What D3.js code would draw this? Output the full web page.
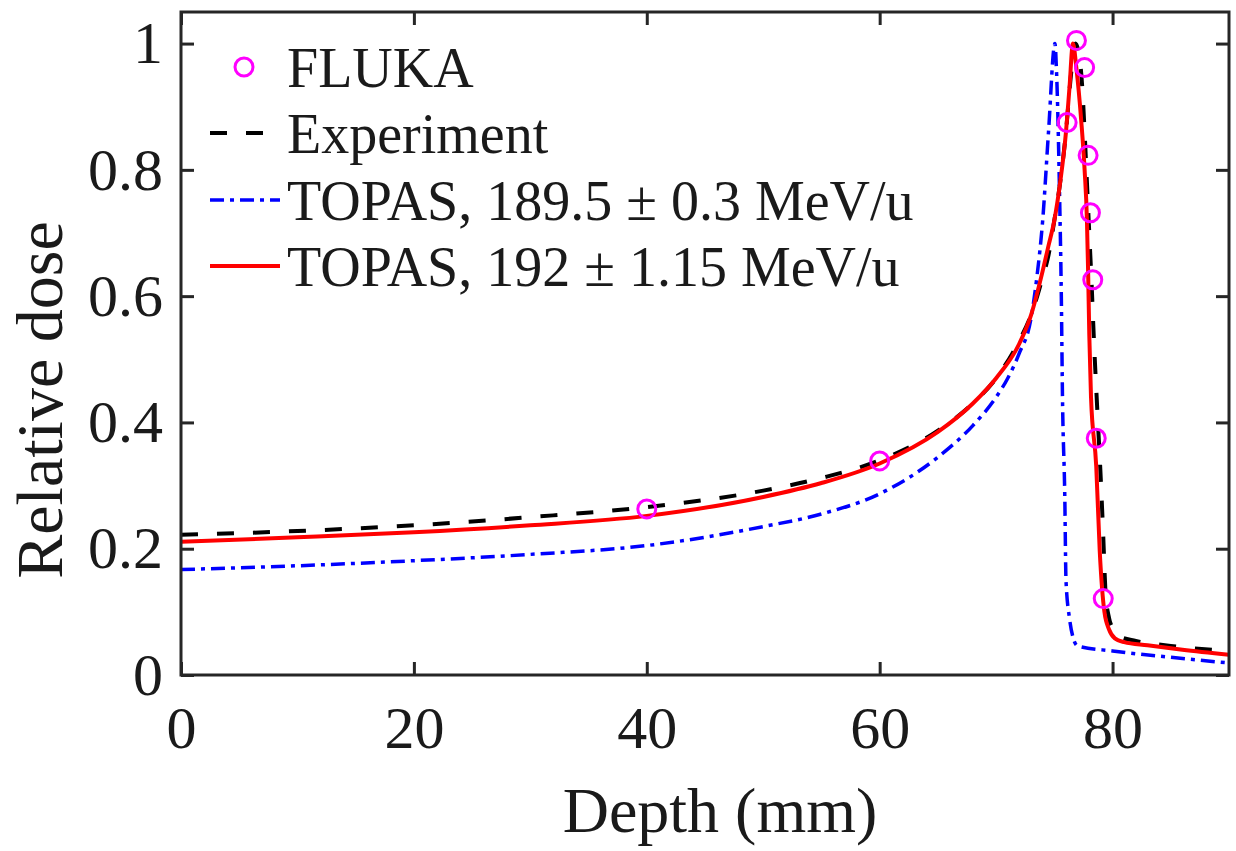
<!DOCTYPE html>
<html>
<head>
<meta charset="utf-8">
<script src="https://cdn.jsdelivr.net/npm/d3@7"></script>
<style>
  body { margin: 0; background: #fff; }
  text { font-family: "Liberation Serif", "Times New Roman", serif; fill: #1a1a1a; }
</style>
</head>
<body>
<div id="container"></div>
<script>
/* DATA */
const expDepth = [0, 10, 20, 30, 40, 50, 55, 60, 65, 68, 70, 72, 73, 74, 74.5, 75, 75.5, 76, 76.4, 76.8, 77.1, 77.4, 77.6, 77.8, 78.0, 78.2, 78.4, 78.7, 79.0, 79.2, 79.4, 79.7, 80.0, 80.6, 82, 85, 90];
const expDose = [0.222, 0.228, 0.237, 0.250, 0.266, 0.292, 0.312, 0.340, 0.387, 0.430, 0.470, 0.530, 0.570, 0.630, 0.665, 0.720, 0.780, 0.860, 0.945, 1.0, 0.985, 0.93, 0.86, 0.78, 0.70, 0.62, 0.53, 0.416, 0.306, 0.22, 0.13, 0.09, 0.074, 0.061, 0.054, 0.046, 0.038];

const redDepth = [0, 10, 20, 30, 40, 50, 55, 60, 65, 68, 70, 72, 73, 74, 74.5, 75, 75.5, 76, 76.3, 76.6, 76.9, 77.3, 77.6, 77.8, 77.9, 78.0, 78.15, 78.6, 78.9, 79.3, 79.7, 80.2, 81, 83, 86, 90];
const redDose = [0.211, 0.218, 0.226, 0.237, 0.252, 0.282, 0.304, 0.335, 0.385, 0.430, 0.470, 0.525, 0.570, 0.640, 0.680, 0.720, 0.780, 0.860, 0.930, 1.0, 0.96, 0.88, 0.80, 0.72, 0.64, 0.54, 0.44, 0.33, 0.196, 0.10, 0.072, 0.058, 0.052, 0.047, 0.040, 0.032];

const blueDepth = [0, 10, 20, 30, 40, 50, 55, 60, 65, 68, 70, 71, 72, 73, 73.5, 74, 74.5, 75.05, 75.2, 75.45, 75.6, 75.7, 75.9, 76.0, 76.3, 76.6, 77, 80, 85, 90];
const blueDose = [0.167, 0.173, 0.181, 0.191, 0.205, 0.235, 0.255, 0.287, 0.345, 0.395, 0.44, 0.47, 0.51, 0.565, 0.63, 0.72, 0.86, 1.0, 0.95, 0.76, 0.60, 0.44, 0.28, 0.15, 0.09, 0.06, 0.046, 0.038, 0.028, 0.019];

const flukaDepth = [40, 60, 76.1, 76.9, 77.6, 77.9, 78.1, 78.3, 78.6, 79.2];
const flukaDose = [0.263, 0.339, 0.875, 1.005, 0.962, 0.823, 0.732, 0.626, 0.375, 0.121];

const xTicks = [0, 20, 40, 60, 80];
const yTicks = [0, 0.2, 0.4, 0.6, 0.8, 1];
const legendLabels = ["FLUKA", "Experiment", "TOPAS, 189.5 \u00b1 0.3 MeV/u", "TOPAS, 192 \u00b1 1.15 MeV/u"];

/* CONSTANTS */
const width = 1236, height = 851;
const mLeft = 181, mRight = 1229, mTop = 12, mBottom = 675;
const axisColor = "#262626";

const svg = d3.select("#container").append("svg")
  .attr("width", width)
  .attr("height", height);

/* SCALES */
const x = d3.scaleLinear().domain([0, 90]).range([mLeft, mRight]);
const y = d3.scaleLinear().domain([0, 1.05]).range([mBottom, mTop]);

svg.append("clipPath").attr("id", "clip")
  .append("rect").attr("x", mLeft).attr("y", mTop).attr("width", mRight - mLeft).attr("height", mBottom - mTop);

const line = d3.line().x(d => x(d[0])).y(d => y(d[1])).curve(d3.curveMonotoneX);
const plot = svg.append("g").attr("clip-path", "url(#clip)");

const series = [
  { depth: blueDepth, dose: blueDose, color: "#0000ff", width: 3.5, dash: "14,6,4,6" },
  { depth: expDepth, dose: expDose, color: "#000", width: 4, dash: "17,19" },
  { depth: redDepth, dose: redDose, color: "#ff0000", width: 4, dash: null }
];
series.forEach(s => {
  plot.append("path")
    .datum(d3.zip(s.depth, s.dose))
    .attr("d", line)
    .attr("fill", "none")
    .attr("stroke", s.color)
    .attr("stroke-width", s.width)
    .attr("stroke-dasharray", s.dash);
});

plot.selectAll(".fluka")
  .data(d3.zip(flukaDepth, flukaDose))
  .join("circle")
  .attr("class", "fluka")
  .attr("cx", d => x(d[0]))
  .attr("cy", d => y(d[1]))
  .attr("r", 9)
  .attr("fill", "none")
  .attr("stroke", "#ff00ff")
  .attr("stroke-width", 3);

/* AXES */
const tickLen = 13;
const axes = svg.append("g");
axes.append("g").attr("transform", `translate(0,${mBottom})`)
  .call(d3.axisBottom(x).tickValues(xTicks).tickSize(-tickLen).tickPadding(30).tickFormat(d3.format("d")));
axes.append("g").attr("transform", `translate(0,${mTop})`)
  .call(d3.axisTop(x).tickValues(xTicks).tickSize(-tickLen).tickFormat(""));
axes.append("g").attr("transform", `translate(${mLeft},0)`)
  .call(d3.axisLeft(y).tickValues(yTicks).tickSize(-tickLen).tickPadding(18).tickFormat(d => d === 0 || d === 1 ? d : d3.format(".1f")(d)));
axes.append("g").attr("transform", `translate(${mRight},0)`)
  .call(d3.axisRight(y).tickValues(yTicks).tickSize(-tickLen).tickFormat(""));

axes.selectAll(".domain").remove();
axes.selectAll(".tick line").attr("stroke", axisColor).attr("stroke-width", 3);
axes.selectAll(".tick text").attr("font-size", 60).attr("fill", "#1a1a1a")
  .attr("font-family", "Liberation Serif, Times New Roman, serif");

svg.append("rect")
  .attr("x", mLeft).attr("y", mTop)
  .attr("width", mRight - mLeft).attr("height", mBottom - mTop)
  .attr("fill", "none").attr("stroke", axisColor).attr("stroke-width", 3);

/* AXIS LABELS */
svg.append("text")
  .attr("x", 720).attr("y", 832)
  .attr("text-anchor", "middle")
  .attr("font-size", 64)
  .text("Depth (mm)");
svg.append("text")
  .attr("transform", "translate(62,400) rotate(-90)")
  .attr("text-anchor", "middle")
  .attr("font-size", 66)
  .text("Relative dose");

/* LEGEND */
const legY = [67, 133, 200, 266];
const leg = svg.append("g");
leg.append("circle").attr("cx", 244).attr("cy", legY[0]).attr("r", 9)
  .attr("fill", "none").attr("stroke", "#ff00ff").attr("stroke-width", 3);
[series[1], series[0], series[2]].forEach((s, i) => {
  leg.append("line")
    .attr("x1", 210).attr("x2", 280)
    .attr("y1", legY[i + 1]).attr("y2", legY[i + 1])
    .attr("stroke", s.color).attr("stroke-width", s.width)
    .attr("stroke-dasharray", s.dash);
});
leg.selectAll(".legtext")
  .data(legendLabels)
  .join("text")
  .attr("class", "legtext")
  .attr("x", 287)
  .attr("y", (d, i) => legY[i] + 20)
  .attr("font-size", 56)
  .text(d => d);
</script>
</body>
</html>
